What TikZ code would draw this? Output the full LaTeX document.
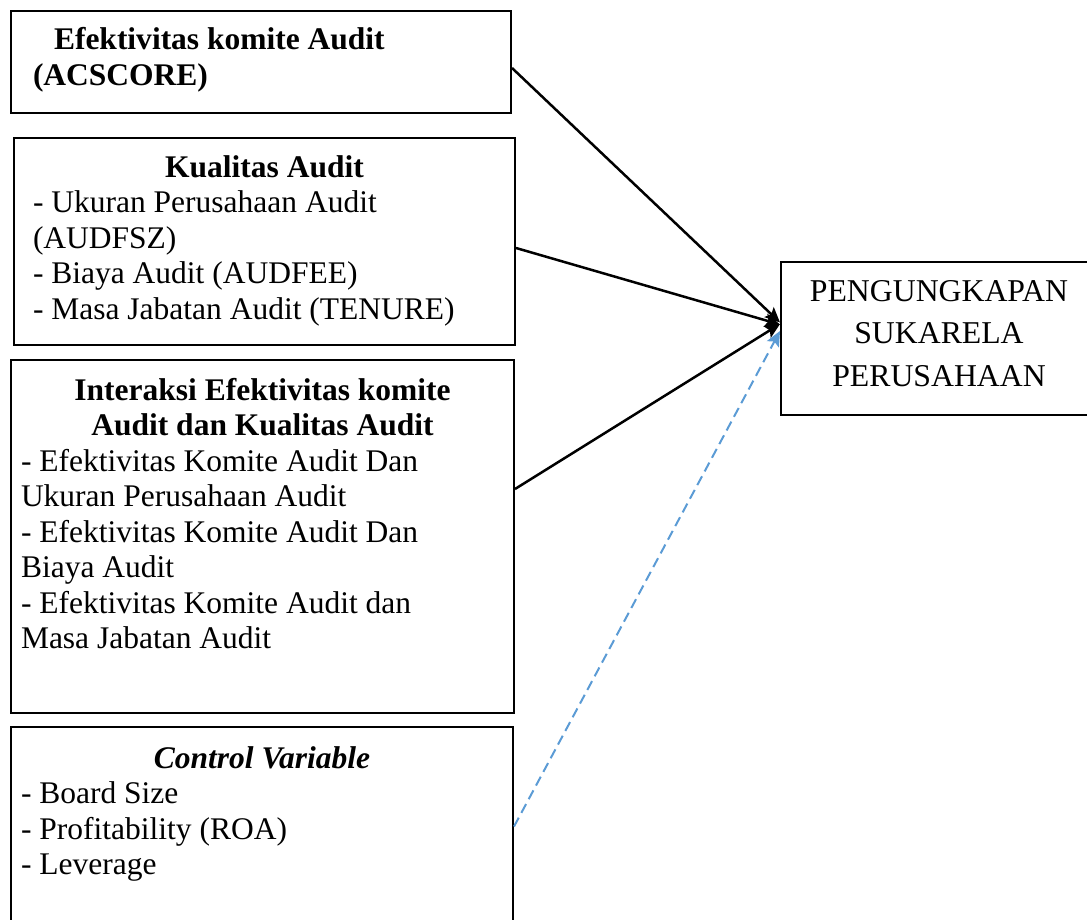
\documentclass[tikz,border=0pt]{standalone}
\usepackage{fontspec}
\setmainfont{Liberation Serif}
\usetikzlibrary{arrows.meta}

\definecolor{linkblue}{RGB}{91,155,213}
\newcommand\boxfont{\fontsize{12.6}{14.2}\selectfont}

\begin{document}
\begin{tikzpicture}[x=0.4pt,y=-0.4pt,>={Stealth[length=6pt,width=5.4pt,inset=1.2pt]},
                    box node/.style={draw,line width=0.8pt,anchor=north west,
                      inner ysep=0pt,align=flush left,font=\boxfont}]

  \useasboundingbox (0,0) rectangle (1087,920);

  \node[box node,inner xsep=8.8pt,text width=182.4pt,text height=15.6pt,
        text depth=25.2pt,font=\boxfont\bfseries] (acscore) at (10,10)
    {\hspace*{8.4pt}Efektivitas komite Audit\\(ACSCORE)};
  \node[box node,inner xsep=7.6pt,text width=185.2pt,text height=15.6pt,
        text depth=67.2pt] (kualitas) at (13,137)
    {\hfill\textbf{Kualitas Audit}\hfill\mbox{}\\
     - Ukuran Perusahaan Audit\\
     (AUDFSZ)\\
     - Biaya Audit (AUDFEE)\\
     - Masa Jabatan Audit (TENURE)};
  \node[box node,inner xsep=4pt,text width=193.2pt,text height=16pt,
        text depth=125.2pt] (interaksi) at (10,359)
    {\hfill\textbf{Interaksi Efektivitas komite}\hfill\mbox{}\\
     \hfill\textbf{Audit dan Kualitas Audit}\hfill\mbox{}\\
     - Efektivitas Komite Audit Dan\\
     Ukuran Perusahaan Audit\\
     - Efektivitas Komite Audit Dan\\
     Biaya Audit\\
     - Efektivitas Komite Audit dan\\
     Masa Jabatan Audit};
  \node[box node,inner xsep=4pt,text width=192.8pt,text height=16.4pt,
        text depth=63.2pt] (kontrol) at (10,726)
    {\hfill\textbf{\textit{Control Variable}}\hfill\mbox{}\\
     - Board Size\\
     - Profitability (ROA)\\
     - Leverage};
  \node[box node,inner xsep=0pt,text width=126.4pt,text height=15.6pt,
        text depth=45.6pt,align=flush center,font=\fontsize{12.7}{17}\selectfont]
    (pengungkapan) at (780,261) {PENGUNGKAPAN\\SUKARELA\\PERUSAHAAN};

  \path[->,line width=1pt]
    ([yshift=-2.4pt]acscore.east) edge ([yshift=6.4pt]pengungkapan.west)
    ([yshift=-2.6pt]kualitas.east) edge ([yshift=5.6pt]pengungkapan.west)
    ([yshift=19pt]interaksi.east) edge ([yshift=5.8pt]pengungkapan.west);
  \draw[->,line width=0.8pt,color=linkblue,dash pattern=on 4pt off 2.2pt]
    (kontrol.east) -- ([yshift=3pt]pengungkapan.west);
\end{tikzpicture}
\end{document}
